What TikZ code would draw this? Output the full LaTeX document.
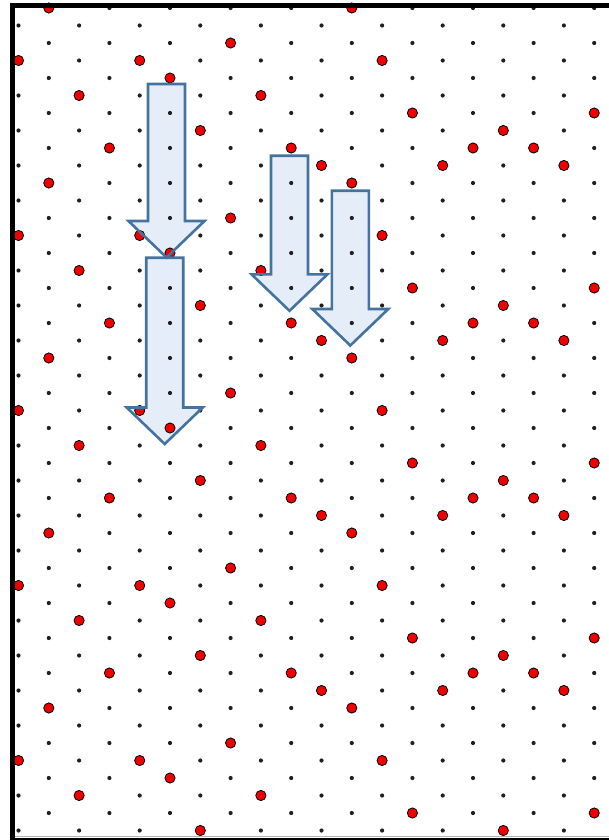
\documentclass[tikz,border=0pt]{standalone}
\usepackage{tikz}
\usetikzlibrary{calc}

\definecolor{arrowfill}{HTML}{E5EDF8}
\definecolor{arrowline}{HTML}{44739F}
\definecolor{defectred}{HTML}{F00000}

\begin{document}
\begin{tikzpicture}[
  x=1pt, y=-1pt,
  site/.style={fill=black!88},
  defect/.style={fill=defectred, draw=black, line width=0.8pt},
  blockarrow/.style={draw=arrowline, line width=2.6pt, line join=miter},
]
\useasboundingbox (0,0) rectangle (608,840);

% Arrow bodies (fill only, sites show through)
\foreach \cx/\ay/\hb in {166.5/84/221, 164.7/257.7/407.5, 289.5/155.7/274.3, 350.3/190.7/309}
  {\fill[arrowfill] (\cx-18.5,\ay) -- (\cx+18.5,\ay) -- (\cx+18.5,\hb) -- (\cx+38,\hb)
     -- (\cx,\hb+36.5) -- (\cx-38,\hb) -- (\cx-18.5,\hb) -- cycle;}

% Triangular lattice — black sites
\foreach \c [evaluate=\c as \rs using {int(1-mod(\c,2))},
             evaluate=\c as \rn using {int(3-mod(\c,2))}] in {0,...,19}
  \foreach \r in {\rs,\rn,...,47}
    {\fill[site] (18.5+30.3*\c, 8+17.5*\r) circle (2.1);}

% Red sites, one per column, repeating every 10 rows
\foreach \c/\d in {0/3, 1/0, 2/5, 3/8, 4/3, 5/4, 6/7, 7/2, 8/5, 9/8,
                   10/9, 11/0, 12/3, 13/6, 14/9, 15/8, 16/7, 17/8, 18/9, 19/6}
  \foreach \k in {0,...,4}
    {\pgfmathtruncatemacro\r{\d+10*\k}
     \ifnum\r<48 \filldraw[defect] (18.5+30.3*\c, 8+17.5*\r) circle (5.1);\fi}

% Arrow outlines
\foreach \cx/\ay/\hb in {166.5/84/221, 164.7/257.7/407.5, 289.5/155.7/274.3, 350.3/190.7/309}
  {\draw[blockarrow] (\cx-18.5,\ay) -- (\cx+18.5,\ay) -- (\cx+18.5,\hb) -- (\cx+38,\hb)
     -- (\cx,\hb+36.5) -- (\cx-38,\hb) -- (\cx-18.5,\hb) -- cycle;}

% Frame
\draw[line width=4.5pt] (12.5,842) -- (12.5,5.3) -- (610,5.3);
\draw[black!30, line width=0.8pt] (15,836.3) -- (610,836.3);
\draw[line width=3pt] (10,839.6) -- (610,839.6);
\end{tikzpicture}
\end{document}
